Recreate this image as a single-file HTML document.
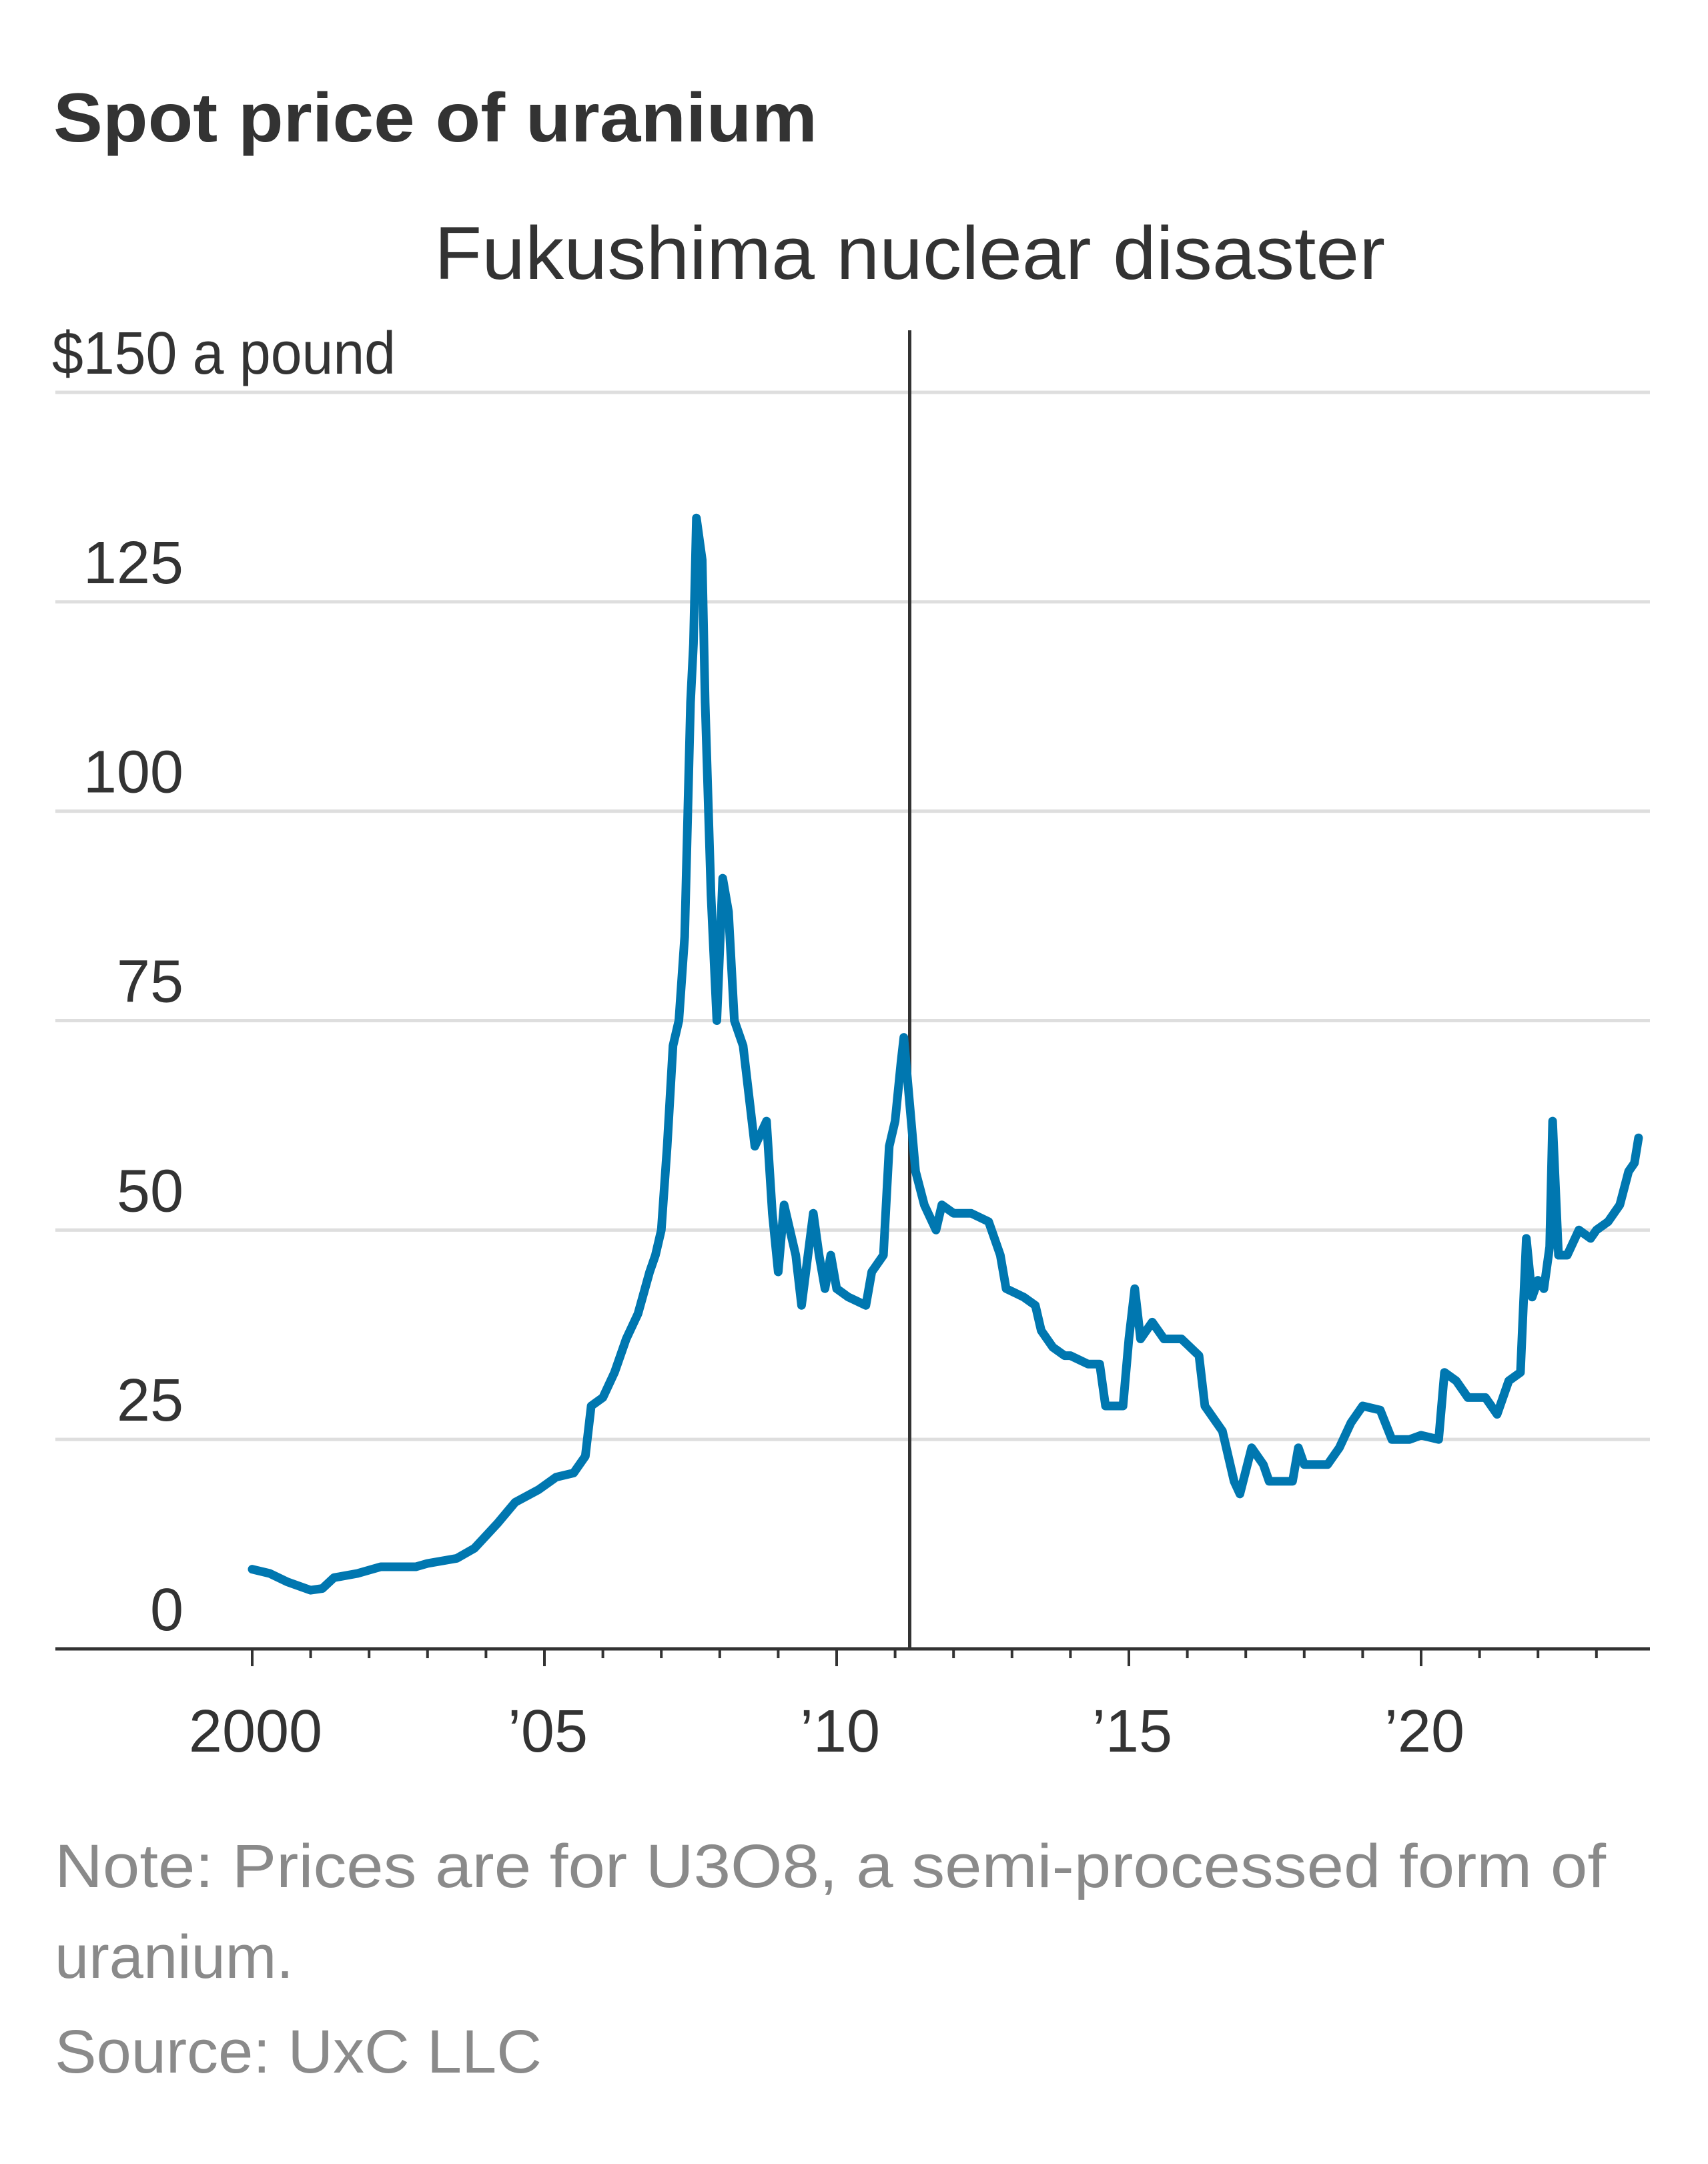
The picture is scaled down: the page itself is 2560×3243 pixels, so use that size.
<!DOCTYPE html>
<html><head><meta charset="utf-8"><style>
html,body{margin:0;padding:0;background:#fff;}
svg{display:block;}
text{font-family:"Liberation Sans",sans-serif;}
</style></head><body>
<svg id="chart" width="2560" height="3243" viewBox="0 0 2560 3243" xmlns="http://www.w3.org/2000/svg">
<text x="80" y="212" font-size="104" font-weight="bold" fill="#333" textLength="1145" lengthAdjust="spacingAndGlyphs">Spot price of uranium</text>
<g id="grid"></g>
<g id="yticks"></g>
<g id="xaxis"></g>
<g id="annot"></g>
<path id="line" fill="none" stroke="#0077b0" stroke-width="13" stroke-linejoin="round" stroke-linecap="round"/>
<text x="82" y="2828" font-size="92" fill="#8a8a8a" textLength="2325" lengthAdjust="spacingAndGlyphs">Note: Prices are for U3O8, a semi-processed form of</text>
<text x="82" y="2964" font-size="92" fill="#8a8a8a">uranium.</text>
<text x="82" y="3106" font-size="92" fill="#8a8a8a" textLength="730" lengthAdjust="spacingAndGlyphs">Source: UxC LLC</text>
</svg>
<script>
const yTicks=[0,25,50,75,100,125,150];
const yTickLabels=["0","25","50","75","100","125","$150 a pound"];
const xTickYears=[2000,2005,2010,2015,2020];
const xTickLabels=["2000","\u201905","\u201910","\u201915","\u201920"];
const eventYear=2011.25;
const eventLabel="Fukushima nuclear disaster";
const years=[2000.0,2000.3,2000.6,2001.0,2001.2,2001.4,2001.8,2002.2,2002.8,2003.0,2003.5,2003.8,2004.2,2004.5,2004.9,2005.2,2005.5,2005.7,2005.8,2006.0,2006.2,2006.4,2006.6,2006.8,2006.9,2007.0,2007.1,2007.2,2007.3,2007.4,2007.5,2007.55,2007.6,2007.7,2007.75,2007.85,2007.95,2008.05,2008.15,2008.25,2008.4,2008.6,2008.8,2008.9,2009.0,2009.1,2009.3,2009.4,2009.6,2009.7,2009.8,2009.9,2010.0,2010.2,2010.5,2010.6,2010.8,2010.9,2011.0,2011.1,2011.15,2011.25,2011.35,2011.5,2011.7,2011.8,2012.0,2012.3,2012.6,2012.8,2012.9,2013.2,2013.4,2013.5,2013.7,2013.9,2014.0,2014.3,2014.5,2014.6,2014.9,2015.0,2015.1,2015.2,2015.4,2015.6,2015.9,2016.2,2016.3,2016.6,2016.8,2016.9,2017.1,2017.3,2017.4,2017.8,2017.9,2018.0,2018.4,2018.6,2018.8,2019.0,2019.3,2019.5,2019.8,2020.0,2020.3,2020.4,2020.6,2020.8,2021.1,2021.3,2021.5,2021.7,2021.8,2021.9,2022.0,2022.1,2022.2,2022.25,2022.35,2022.5,2022.7,2022.9,2023.0,2023.2,2023.4,2023.55,2023.65,2023.72];
const prices=[9.5,9,8,7,7.2,8.5,9,9.8,9.8,10.2,10.8,12,15,17.5,19,20.5,21,23,29,30,33,37,40,45,47,50,60,72,75,85,113,120,135,130,113,90,75,92,88,75,72,60,63,52,45,53,47,41,52,47,43,47,43,42,41,45,47,60,63,70,73,65,57,53,50,53,52,52,51,47,43,42,41,38,36,35,35,34,34,29,29,37,43,37,39,37,37,35,29,26,20,18.5,24,22,20,20,24,22,22,24,27,29,28.5,25,25,25.5,25,33,32,30,30,28,32,33,49,42,44,43,48,63,47,47,50,49,50,51,53,57,58,61];

const NS="http://www.w3.org/2000/svg";
const X0=83,X1=2473,Y0=2471,Y150=588;
function x(yr){return 378+(yr-2000)*87.6;}
function y(v){return Y0-(v/150)*(Y0-Y150);}
function mk(tag,attrs,parent,txt){const e=document.createElementNS(NS,tag);for(const k in attrs)e.setAttribute(k,attrs[k]);if(txt!==undefined)e.textContent=txt;parent.appendChild(e);return e;}
const grid=document.getElementById('grid'),yt=document.getElementById('yticks'),xa=document.getElementById('xaxis'),an=document.getElementById('annot');
yTicks.forEach((v,i)=>{
  if(v>0){const g=mk('line',{x1:X0,x2:X1,y1:y(v),y2:y(v),stroke:'#dedede','stroke-width':5},grid);
    
    }
  const last=i===yTicks.length-1;
  const t=mk('text',{x:last?78:275,y:y(v)-28,'font-size':90,fill:'#333','text-anchor':last?'start':'end'},yt,yTickLabels[i]);
  if(last){t.setAttribute('textLength','515');t.setAttribute('lengthAdjust','spacingAndGlyphs');}
  
  
});
const ax=mk('line',{x1:X0,x2:X1,y1:Y0,y2:Y0,stroke:'#333','stroke-width':5},xa);


for(let yr=2000;yr<=2023;yr++){
  const major=xTickYears.includes(yr);
  const tk=mk('line',{x1:x(yr),x2:x(yr),y1:Y0,y2:Y0+(major?26:14),stroke:'#333','stroke-width':4},xa);
  
  
}
xTickYears.forEach((yr,i)=>{
  const t=mk('text',{x:x(yr)+5,y:2625,'font-size':90,fill:'#333','text-anchor':'middle'},xa,xTickLabels[i]);
  
  
});
const ev=mk('line',{x1:x(eventYear),x2:x(eventYear),y1:495,y2:Y0,stroke:'#333','stroke-width':5},an);


const el=mk('text',{x:x(eventYear),y:418,'font-size':112,fill:'#333','text-anchor':'middle',textLength:'1425',lengthAdjust:'spacingAndGlyphs'},an,eventLabel);


let d='';years.forEach((yr,i)=>{d+=(i?'L':'M')+x(yr).toFixed(1)+','+y(prices[i]).toFixed(1);});
document.getElementById('line').setAttribute('d',d);
</script>
</body></html>
